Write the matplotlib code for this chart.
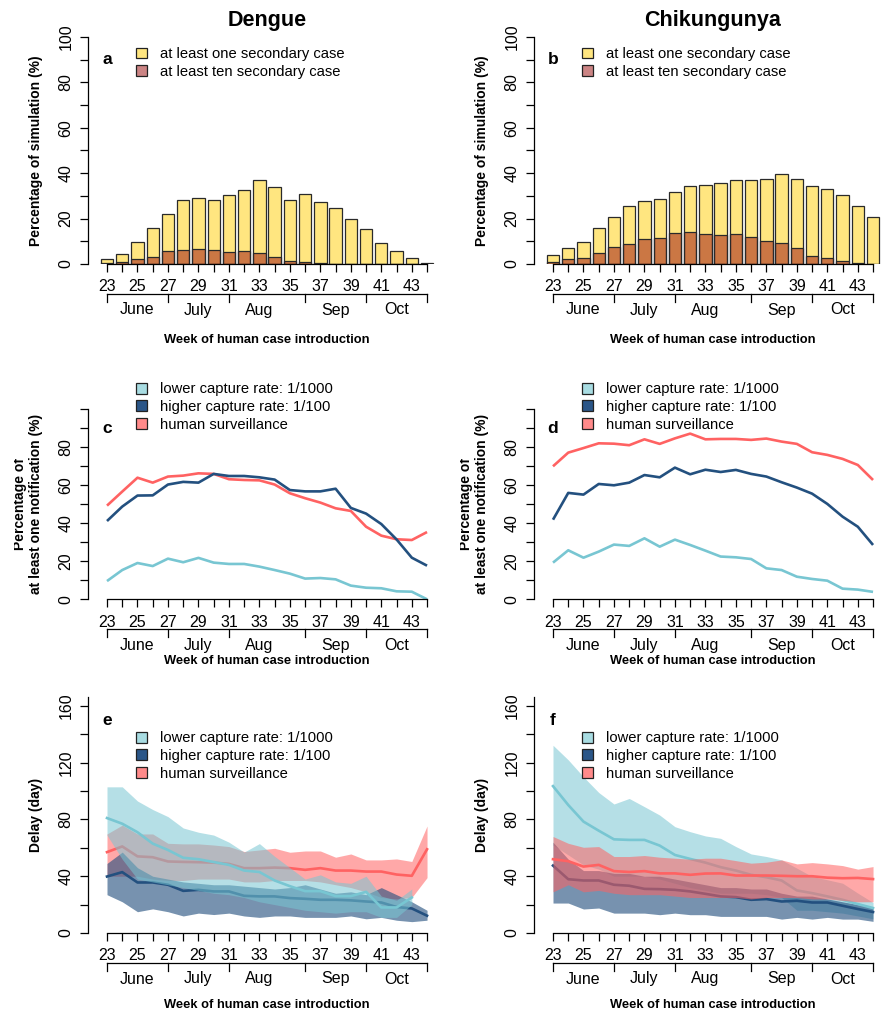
import numpy as np
import matplotlib
matplotlib.use('Agg')
import matplotlib.pyplot as plt
from matplotlib.patches import Patch
from matplotlib.transforms import Bbox

plt.rcParams['font.family'] = ['Liberation Sans', 'DejaVu Sans']

weeks = list(range(23, 45))
week_labels = [str(w) if w % 2 == 1 else '' for w in weeks]
month_ticks = [23, 27, 31, 36, 40, 44]
month_pos = [25, 29, 33, 38, 42]
month_names = ['June', 'July', 'Aug', 'Sep', 'Oct']

# percentage of simulations with secondary cases
den_one = [2.2, 4.4, 9.7, 15.8, 22.0, 28.1, 29.0, 28.3, 30.3, 32.5, 37.2, 33.8, 28.3, 31.0, 27.1, 24.7, 19.9, 15.4, 9.2, 5.7, 2.6, 0.3]
den_ten = [0.3, 0.9, 2.2, 2.9, 5.7, 6.1, 6.7, 6.1, 5.3, 5.7, 4.8, 3.2, 1.3, 0.7, 0.3, 0.1, 0, 0, 0, 0, 0, 0]
chik_one = [3.8, 6.9, 9.5, 15.8, 20.6, 25.6, 27.8, 28.7, 31.9, 34.4, 35.0, 35.6, 37.2, 36.9, 37.3, 39.8, 37.3, 34.3, 33.2, 30.2, 25.5, 20.9]
chik_ten = [1.0, 2.0, 2.6, 5.0, 7.6, 8.9, 11.1, 11.6, 13.5, 14.1, 13.3, 12.9, 13.2, 11.9, 10.1, 9.2, 6.9, 3.7, 2.6, 1.2, 0.4, 0]

# percentage with at least one notification
den_det_low = [9.6, 15.4, 19.1, 17.5, 21.4, 19.5, 21.8, 19.3, 18.6, 18.6, 17.2, 15.4, 13.5, 10.9, 11.2, 10.5, 7.2, 6.1, 5.8, 4.2, 4.0, 0.0]
den_det_high = [41.2, 48.8, 54.6, 54.7, 60.4, 61.8, 61.4, 66.0, 64.9, 64.9, 64.2, 63.0, 57.5, 56.8, 56.8, 58.2, 48.1, 45.1, 39.6, 31.5, 21.9, 17.7]
den_det_hum = [49.3, 56.7, 64.0, 61.4, 64.6, 65.1, 66.3, 66.0, 63.2, 62.8, 62.6, 60.4, 55.8, 53.2, 50.9, 47.9, 46.5, 38.2, 33.5, 31.6, 31.2, 35.4]
chik_det_low = [19.3, 25.8, 21.9, 25.1, 28.8, 28.1, 32.1, 27.7, 31.4, 28.6, 25.6, 22.5, 22.1, 21.2, 16.3, 15.4, 11.9, 10.7, 9.8, 5.6, 5.1, 3.9]
chik_det_high = [41.9, 56.0, 55.1, 60.7, 60.0, 61.4, 65.4, 64.2, 69.3, 65.8, 68.2, 67.0, 68.1, 66.0, 64.6, 61.6, 58.8, 55.6, 50.2, 43.5, 38.2, 28.6]
chik_det_hum = [70.0, 77.2, 79.6, 82.1, 81.9, 81.1, 84.2, 81.8, 84.7, 87.2, 84.2, 84.4, 84.4, 83.9, 84.6, 83.0, 81.8, 77.4, 76.0, 73.9, 70.7, 62.8]

# delay (days): median, upper and lower bounds
nan = np.nan
den_low_med = [81, 77, 71, 63, 58.5, 53, 52, 50, 48, 44, 43, 37, 33, 29.5, 29.5, 26, 26, 29, 18, 18, 25, nan]
den_low_hi = [103, 103, 93, 87, 82, 74, 71, 69, 64, 57, 63, 54, 46, 38, 41, 36, 35, 40, 26, 23, 31, nan]
den_low_lo = [69, 52, 38, 36, 34, 32, 30, 28, 27, 25, 22, 20, 18, 16, 15, 14, 15, 15, 11, 11, 20, nan]
den_high_med = [39.8, 42.9, 35.6, 35.6, 34, 29.7, 30.4, 29.3, 29.3, 26.2, 25.8, 25.8, 24.6, 24.1, 23.4, 23.4, 23, 22.2, 21.5, 18.3, 17.3, 12.2]
den_high_hi = [49, 57, 46, 40, 38, 36, 35, 34, 34, 33, 32, 31, 32, 34, 31, 28, 29, 27, 32, 27, 22, 16]
den_high_lo = [27, 22, 15, 17, 15, 12, 14, 13, 14, 12, 11, 12, 12, 11, 11, 11, 12, 10, 11, 9, 8, 9]
den_hum_med = [57, 61, 54, 53.4, 50.4, 50.1, 49.9, 49.6, 48.7, 45.7, 45.7, 46.1, 45.7, 44.5, 45.7, 44, 44, 43.3, 43.3, 41.2, 40.3, 59]
den_hum_hi = [69.8, 76, 69.8, 69.8, 63.2, 62.8, 62.8, 62, 60.9, 57.4, 58.5, 59.7, 56.9, 57.8, 57.8, 53.4, 55.7, 51.5, 51.5, 52.2, 50.4, 75.4]
den_hum_lo = [40, 40, 40, 38, 37, 37, 38, 38, 38, 36, 36, 37, 37, 37, 36, 34, 32, 29, 25, 24, 25, 39]

chik_low_med = [103.5, 90.2, 78.5, 72.1, 66, 65.6, 65.6, 61.6, 55, 52.2, 49.6, 46.4, 44, 41, 39.3, 37, 30, 28.1, 25.8, 23.4, 20.4, 17.6]
chik_low_hi = [132.3, 122, 110, 99, 90.9, 94.8, 89, 83.1, 74.9, 71.4, 68.4, 66.7, 60.9, 55.7, 53.9, 51.5, 45.7, 39.8, 37.5, 35.1, 28.1, 21.5]
chik_low_lo = [62, 55, 48, 45, 40, 40, 40, 38, 35, 32, 30, 28, 28, 28, 27, 25, 16, 16, 15, 14, 12, 10]
chik_high_med = [47.5, 37.9, 37, 37, 34, 33.3, 31.1, 30.9, 30.4, 29.3, 27.6, 25.8, 25.3, 23.4, 23.9, 22.2, 22.7, 21.5, 21.5, 19.2, 16.9, 14.8]
chik_high_hi = [64, 52, 44, 44, 42, 42, 40, 40, 38, 36, 34, 32, 32, 31, 31, 28, 26, 26, 24, 22, 20, 18]
chik_high_lo = [21.1, 21.1, 16.9, 17.6, 14, 14, 14, 12.9, 14, 12.9, 12.9, 11.7, 11.7, 11.7, 11.7, 9.8, 11, 9.8, 11, 9.8, 9.8, 8.2]
chik_hum_med = [52, 50.6, 46.8, 48, 43.6, 43, 43.6, 42, 42, 41, 41.9, 42, 40.5, 40.5, 40.5, 40.3, 40, 40, 39, 38.6, 38.8, 38]
chik_hum_hi = [68, 63.2, 60.4, 60.9, 53.9, 53.9, 54.6, 53.4, 52.7, 52, 52.7, 52.7, 51, 49.2, 49.9, 51.5, 48.7, 49.6, 48.7, 47.5, 45, 46.8]
chik_hum_lo = [29, 34, 29, 30, 28, 27, 27, 27, 26, 25, 25, 25, 25, 24, 25, 25, 25, 24, 24, 23, 22, 22]

yellow = '#FFE680'
brown = (0.6, 0.04, 0.04, 0.5)
col = {'low': '#78C6D2', 'high': '#23507F', 'hum': '#FF6262'}
alpha = {'low': 0.55, 'high': 0.62, 'hum': 0.55}
leg_col = {'low': '#A8DCE2', 'high': '#2B5688', 'hum': '#FF8A8A'}
leg_lab = {'low': 'lower capture rate: 1/1000', 'high': 'higher capture rate: 1/100', 'hum': 'human surveillance'}

TICK_FS = 11.5

W, H = 884, 1016
fig = plt.figure(figsize=(W / 100, H / 100), dpi=100)
XL = (21.753, 44.75)
XW = (XL[1] - XL[0]) * 15.24


def px_axes(left, top, bottom):
    return fig.add_axes([left / W, 1 - bottom / H, XW / W, (bottom - top) / H])


def style(ax, ytop, yticks, ylabeled, ylabel, xl_off, ylab2=False):
    hpx = ax.get_position().height * H
    wpx = ax.get_position().width * W
    ax.set_xlim(XL)
    ax.set_ylim(0, ytop)
    ax.spines['top'].set_visible(False)
    ax.spines['right'].set_visible(False)
    ax.spines['left'].set_bounds(0, yticks[-1] if ytop < 150 else ytop)
    ax.spines['bottom'].set_bounds(23, 44)
    for s in ['left', 'bottom']:
        ax.spines[s].set_linewidth(0.9)
    ax.set_xticks(weeks)
    ax.set_xticklabels(week_labels)
    ax.set_yticks(yticks)
    ax.set_yticklabels([str(t) if t in ylabeled else '' for t in yticks])
    ax.tick_params(axis='both', direction='out', length=5.5, width=0.9, labelsize=TICK_FS)
    ax.tick_params(axis='x', pad=5.5)
    ax.tick_params(axis='y', pad=5)
    for lbl in ax.get_yticklabels():
        lbl.set_rotation(90)
        lbl.set_va('center')
    tr = ax.get_xaxis_transform()
    ax.plot([23, 44], [-30 / hpx, -30 / hpx], transform=tr, clip_on=False, color='k', lw=0.9)
    for m in month_ticks:
        ax.plot([m, m], [-30 / hpx, -38 / hpx], transform=tr, clip_on=False, color='k', lw=0.9)
    for m, n in zip(month_pos, month_names):
        ax.text(m, -46 / hpx, n, transform=tr, ha='center', va='center', fontsize=TICK_FS)
    ax.text(33.5, -xl_off / hpx, 'Week of human case introduction', transform=tr,
            ha='center', va='center', fontsize=9.3, fontweight='bold')
    if ylab2:
        x0 = ax.get_position().x0 * W
        t = ax.text(-60 / wpx, 0.5, 'Percentage of\nat least one notification (%)', transform=ax.transAxes,
                    rotation=90, ha='center', va='center', fontsize=10, fontweight='bold',
                    linespacing=1.25, clip_on=True)
        t.set_clip_box(Bbox.from_extents(x0 - 74, 0, W, H))
    else:
        ax.text(-52 / wpx, 0.5, ylabel, transform=ax.transAxes, rotation=90,
                ha='center', va='center', fontsize=10, fontweight='bold')


def legend(ax, handles, labels, ymid_px, ax_bottom, hpx):
    ax.legend(handles, labels, loc='center left',
              bbox_to_anchor=(47.5 / XW, (ax_bottom - ymid_px) / hpx),
              frameon=False, fontsize=10.6, handlelength=0.75, handleheight=0.75,
              handletextpad=0.9, labelspacing=0.25, borderaxespad=0, borderpad=0)


# row 1: bars
for left, one, ten, title, letter in [(88, den_one, den_ten, 'Dengue', 'a'),
                                      (534, chik_one, chik_ten, 'Chikungunya', 'b')]:
    ax = px_axes(left, 37, 264)
    ax.bar(weeks, one, width=0.81, color=yellow, edgecolor='#2a2a2a', linewidth=0.9)
    ax.bar(weeks, ten, width=0.81, color=brown, edgecolor='#2a2a2a', linewidth=0.9)
    style(ax, 100, list(range(0, 101, 10)), [0, 20, 40, 60, 80, 100],
          'Percentage of simulation (%)', 76)
    ax.text(33.5, 1 + 16 / 227, title, transform=ax.get_xaxis_transform(), ha='center',
            va='center', fontsize=15.5, fontweight='bold')
    ax.text(23, 90, letter, ha='center', va='center', fontsize=12.5, fontweight='bold')
    hs = [Patch(facecolor=yellow, edgecolor='#222222', linewidth=0.9),
          Patch(facecolor=brown, edgecolor='#222222', linewidth=0.9)]
    legend(ax, hs, ['at least one secondary case', 'at least ten secondary case'], 63, 264, 227)

keys = ['low', 'high', 'hum']
leg_handles = [Patch(facecolor=leg_col[k], edgecolor='#222222', linewidth=0.9) for k in keys]
leg_labels = [leg_lab[k] for k in keys]

# row 2: detection
for left, det, letter in [(88, {'low': den_det_low, 'high': den_det_high, 'hum': den_det_hum}, 'c'),
                          (534, {'low': chik_det_low, 'high': chik_det_high, 'hum': chik_det_hum}, 'd')]:
    ax = px_axes(left, 409.3, 599.3)
    for k in ['low', 'hum', 'high']:
        ax.plot(weeks, det[k], color=col[k], lw=1.9, solid_capstyle='butt')
    style(ax, 100, list(range(0, 101, 10)), [0, 20, 40, 60, 80], None, 62, ylab2=True)
    ax.text(23, 90, letter, ha='center', va='center', fontsize=12.5, fontweight='bold')
    legend(ax, leg_handles, leg_labels, 407, 599.3, 190)

# row 3: delays
den_delay = {'low': (den_low_med, den_low_lo, den_low_hi),
             'high': (den_high_med, den_high_lo, den_high_hi),
             'hum': (den_hum_med, den_hum_lo, den_hum_hi)}
chik_delay = {'low': (chik_low_med, chik_low_lo, chik_low_hi),
              'high': (chik_high_med, chik_high_lo, chik_high_hi),
              'hum': (chik_hum_med, chik_hum_lo, chik_hum_hi)}
order_e = [('hum', 'band'), ('hum', 'line'), ('high', 'band'), ('high', 'line'), ('low', 'band'), ('low', 'line')]
order_f = [('low', 'band'), ('high', 'band'), ('low', 'line'), ('high', 'line'), ('hum', 'band'), ('hum', 'line')]

for left, dd, order, letter in [(88, den_delay, order_e, 'e'), (534, chik_delay, order_f, 'f')]:
    ax = px_axes(left, 697, 933)
    for z, (k, what) in enumerate(order):
        med, lo, hi = dd[k]
        if what == 'band':
            ax.fill_between(weeks, lo, hi, color=col[k], alpha=alpha[k], linewidth=0, zorder=1 + z)
        else:
            ax.plot(weeks, med, color=col[k], lw=1.9, zorder=1 + z)
    style(ax, 166.3, list(range(0, 161, 20)), [0, 40, 80, 120, 160], 'Delay (day)', 72)
    ax.text(23, 150, letter, ha='center', va='center', fontsize=12.5, fontweight='bold')
    legend(ax, leg_handles, leg_labels, 756, 933, 236)

fig.savefig('out.png', dpi=100)
